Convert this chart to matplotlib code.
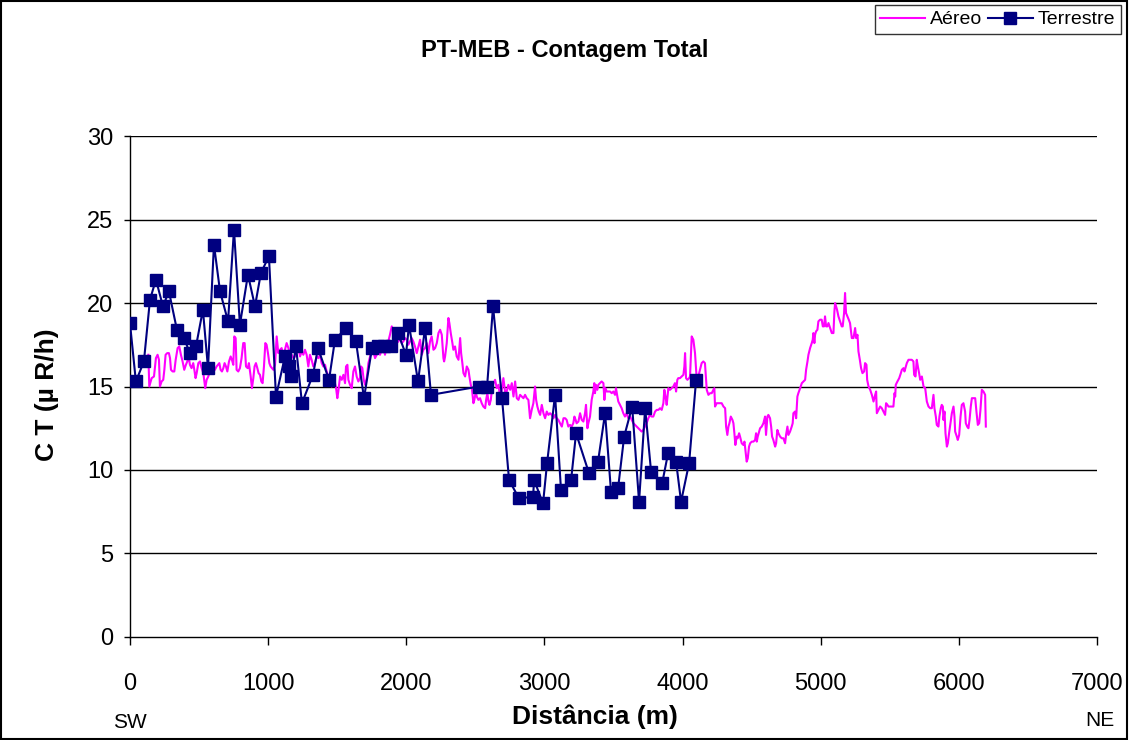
import numpy as np
import matplotlib
matplotlib.use("Agg")
import matplotlib.pyplot as plt
from matplotlib.patches import Rectangle

plt.rcParams['font.family'] = ['Liberation Sans', 'DejaVu Sans']

# perfil aéreo (distância em m, contagem total em uR/h)
aereo_x = [
    133, 140, 157, 174, 188, 200, 210, 217, 229, 241, 249, 258, 270, 282, 290, 297, 309, 321, 331, 345,
    357, 369, 381, 393, 405, 415, 425, 434, 446, 458, 466, 475, 483, 495, 507, 519, 531, 545, 555, 567,
    579, 591, 603, 615, 627, 637, 647, 656, 666, 676, 685, 695, 705, 717, 729, 738, 748, 755, 765, 772,
    784, 796, 808, 820, 830, 840, 852, 861, 874, 883, 893, 902, 912, 922, 931, 941, 951, 960, 970, 980,
    989, 999, 1009, 1018, 1028, 1038, 1050,
    1062, 1074, 1086, 1098, 1110, 1122, 1134, 1147, 1159, 1171, 1183, 1195, 1207, 1219, 1231, 1243, 1255,
    1267, 1279, 1291, 1303, 1315, 1327, 1340, 1352, 1364, 1376, 1388, 1400, 1412, 1424, 1436, 1448, 1460,
    1472, 1484, 1492, 1501, 1508, 1521, 1533, 1545, 1557, 1564, 1574, 1581, 1593, 1605, 1617, 1629, 1641,
    1653, 1665, 1673, 1682, 1692, 1702, 1714, 1726, 1738, 1750, 1762, 1774, 1786, 1798, 1810, 1822, 1834,
    1846, 1858, 1870, 1882, 1895, 1907, 1919, 1931, 1943, 1955, 1967, 1979, 1991, 2003, 2015, 2027, 2039,
    2051, 2063, 2076, 2088, 2100,
    2112, 2124, 2136, 2148, 2160, 2172, 2184, 2197, 2209, 2221, 2233, 2245, 2257, 2269, 2274, 2281, 2293,
    2305, 2312, 2322, 2334, 2341, 2353, 2365, 2378, 2390, 2397, 2406, 2414, 2426, 2438, 2450, 2457, 2467,
    2476, 2486, 2493, 2503, 2510, 2522, 2534, 2546, 2558, 2571, 2578, 2587, 2595, 2602, 2612, 2621, 2631,
    2643, 2655, 2667, 2679, 2691, 2703, 2715, 2727, 2739, 2752, 2764, 2776, 2788, 2800, 2812, 2824, 2836,
    2848, 2860, 2872, 2884, 2896, 2908, 2920, 2932, 2940, 2949, 2959, 2969, 2981, 2993, 3005, 3017, 3029,
    3041, 3053, 3065, 3077, 3089, 3101, 3113, 3126, 3138, 3150,
    3161, 3173, 3185, 3197, 3209, 3217, 3226, 3233, 3246, 3258, 3270, 3282, 3294, 3301, 3311, 3318, 3330,
    3342, 3354, 3361, 3366, 3373, 3383, 3390, 3402, 3414, 3427, 3434, 3441, 3451, 3463, 3475, 3487, 3499,
    3511, 3518, 3528, 3535, 3547, 3559, 3571, 3583, 3595, 3607, 3620, 3632, 3644, 3656, 3668, 3680, 3692,
    3704, 3716, 3728, 3740, 3752, 3764, 3776, 3788, 3801, 3813, 3825, 3837, 3849, 3861, 3868, 3878, 3885,
    3897, 3909, 3921, 3933, 3945, 3953, 3962, 3969, 3981, 3994, 4006, 4013, 4018, 4025, 4035, 4047, 4054,
    4066, 4078, 4090, 4102, 4114, 4126, 4138, 4150, 4162, 4175, 4187, 4199,
    4211, 4223, 4230, 4235, 4247, 4259, 4271, 4283, 4296, 4308, 4315, 4324, 4332, 4339, 4349, 4361, 4368,
    4375, 4382, 4392, 4399, 4409, 4416, 4428, 4440, 4448, 4455, 4464, 4472, 4481, 4489, 4501, 4513, 4525,
    4532, 4537, 4544, 4554, 4561, 4573, 4585, 4597, 4604, 4614, 4621, 4633, 4641, 4648, 4657, 4670, 4677,
    4686, 4694, 4706, 4718, 4730, 4742, 4749, 4759, 4766, 4778, 4790, 4797, 4802, 4814, 4822, 4831, 4838,
    4851, 4863, 4875, 4887, 4894, 4904, 4911, 4923, 4935, 4942, 4947, 4954, 4959, 4966, 4976, 4983, 4995,
    5007, 5015, 5024, 5031, 5039, 5048, 5056, 5068, 5080, 5092, 5099, 5104, 5111, 5118, 5128, 5140, 5152,
    5159, 5169, 5176, 5183, 5193, 5203, 5212, 5225, 5237, 5249,
    5256, 5266, 5273, 5283, 5292, 5302, 5314, 5321, 5331, 5336, 5346, 5358, 5370, 5382, 5394, 5401, 5406,
    5418, 5430, 5442, 5454, 5466, 5473, 5483, 5490, 5502, 5514, 5526, 5534, 5539, 5543, 5555, 5568, 5580,
    5587, 5599, 5606, 5613, 5623, 5635, 5647, 5659, 5671, 5676, 5686, 5695, 5703, 5712, 5720, 5732, 5744,
    5756, 5768, 5780, 5792, 5804, 5816, 5823, 5833, 5840, 5852, 5859, 5869, 5876, 5884, 5888, 5896, 5903,
    5913, 5920, 5929, 5942, 5949, 5961, 5968, 5973, 5985, 5992, 6002, 6012, 6021, 6033, 6045, 6050, 6060,
    6069, 6077, 6086, 6094, 6106, 6118, 6127, 6137, 6147, 6156, 6161, 6166, 6178, 6190, 6195,
]
aereo_ct = [
    16.9, 15.0, 15.5, 15.6, 16.7, 16.9, 16.6, 15.0, 15.3, 15.4, 16.0, 16.9, 17.0, 17.0, 16.7, 16.0, 15.9, 15.9, 16.6, 17.3,
    17.4, 16.9, 16.5, 16.0, 16.3, 16.5, 16.8, 16.3, 16.1, 16.4, 16.0, 15.5, 15.8, 16.4, 16.5, 16.1, 15.8, 14.9, 15.4, 15.6,
    15.9, 16.4, 16.0, 16.0, 16.2, 16.3, 16.4, 16.0, 15.9, 16.1, 16.4, 16.2, 15.9, 16.5, 16.8, 16.6, 16.3, 18.0, 17.9, 16.0,
    15.9, 16.1, 16.7, 17.6, 17.6, 16.2, 16.1, 16.4, 15.6, 14.9, 15.5, 16.2, 16.4, 16.1, 15.8, 15.7, 15.3, 15.2, 16.2, 17.6,
    17.5, 17.0, 16.4, 16.2, 16.1, 16.0, 16.3,
    18.0, 17.0, 17.2, 17.3, 16.7, 17.2, 17.6, 17.3, 16.8, 16.9, 16.7, 16.8, 17.1, 17.4, 16.8, 17.1, 16.9,
    17.2, 16.9, 16.2, 16.9, 16.6, 16.2, 16.4, 16.8, 16.7, 16.9, 16.4, 16.2, 16.3, 15.9, 15.6, 15.3, 15.0,
    15.4, 15.2, 14.9, 14.3, 14.7, 15.6, 15.4, 15.7, 15.2, 16.2, 16.3, 15.4, 15.1, 14.9, 15.9, 16.2, 15.6,
    15.3, 15.5, 16.2, 16.1, 15.4, 15.1, 15.5, 16.4, 16.8, 17.2, 17.1, 16.7, 16.9, 17.2, 16.9, 17.2, 17.4,
    16.9, 17.5, 17.7, 18.1, 18.6, 18.3, 17.8, 17.6, 17.7, 17.9, 17.6, 17.7, 17.9, 17.8, 17.5, 17.7, 17.9,
    17.7, 17.4, 17.0, 17.4, 17.8,
    16.9, 17.2, 17.3, 17.6, 17.0, 17.7, 18.0, 17.2, 17.3, 17.6, 18.2, 18.4, 18.1, 16.7, 16.5, 16.8, 17.6,
    19.1, 18.8, 18.2, 17.6, 17.2, 17.4, 16.8, 16.6, 17.9, 17.0, 16.4, 15.8, 15.6, 16.2, 16.0, 15.6, 15.1,
    14.8, 14.0, 14.2, 14.7, 14.4, 14.2, 14.3, 14.0, 13.8, 13.7, 14.2, 14.6, 14.1, 13.9, 14.2, 14.9, 15.2,
    15.4, 14.9, 15.1, 14.4, 14.8, 15.5, 14.7, 14.7, 15.1, 14.8, 15.2, 14.4, 15.3, 14.3, 14.2, 14.5, 14.4,
    14.3, 14.5, 14.3, 14.2, 13.1, 13.6, 14.0, 15.0, 14.2, 13.8, 13.5, 13.3, 13.9, 13.4, 13.1, 13.5, 13.3,
    13.4, 13.3, 13.1, 13.3, 13.1, 13.0, 12.8, 12.6, 13.1, 13.1,
    13.0, 12.6, 12.7, 12.6, 12.8, 13.2, 13.0, 12.8, 12.9, 13.4, 13.0, 12.9, 13.4, 13.9, 12.5, 12.8, 13.2,
    14.2, 14.7, 15.2, 14.6, 15.1, 14.8, 15.1, 15.2, 15.3, 15.2, 14.2, 14.9, 14.7, 14.7, 14.7, 14.6, 14.7,
    14.5, 14.9, 14.4, 14.1, 13.9, 13.7, 13.4, 13.2, 13.4, 13.1, 13.2, 13.0, 12.8, 12.7, 12.6, 12.5, 12.4,
    12.3, 12.4, 12.6, 12.8, 13.1, 13.3, 13.2, 13.2, 13.5, 13.6, 13.6, 13.7, 13.6, 14.0, 14.8, 14.3, 13.9,
    14.9, 14.8, 14.9, 15.0, 15.2, 14.7, 15.4, 15.5, 15.5, 15.6, 15.7, 16.2, 17.0, 15.5, 15.4, 15.5, 15.6,
    18.0, 17.8, 17.0, 15.5, 15.6, 16.0, 16.4, 16.5, 16.4, 14.8, 14.5, 14.6,
    14.6, 14.8, 14.9, 13.8, 14.0, 14.0, 14.0, 14.0, 13.8, 13.7, 12.6, 12.1, 12.6, 12.8, 13.2, 13.0, 12.8,
    12.2, 11.5, 12.0, 11.9, 12.2, 12.0, 11.6, 11.5, 11.7, 11.2, 10.5, 10.7, 11.4, 11.6, 11.7, 11.7, 11.8,
    12.2, 11.7, 12.0, 12.3, 12.5, 12.6, 12.8, 13.2, 12.1, 13.2, 13.3, 13.1, 12.6, 12.0, 11.8, 11.4, 11.6,
    12.4, 12.2, 12.0, 11.9, 11.9, 11.6, 12.1, 12.6, 12.1, 12.3, 12.6, 12.8, 13.4, 13.5, 13.1, 14.4, 14.6,
    14.9, 15.2, 15.3, 15.4, 16.0, 16.5, 16.9, 17.3, 17.6, 17.8, 18.2, 17.6, 18.1, 18.3, 18.4, 18.9, 19.0,
    19.0, 18.6, 18.6, 19.2, 18.6, 18.6, 18.8, 18.5, 18.2, 18.2, 19.5, 20.0, 19.8, 19.6, 19.2, 18.9, 18.6,
    18.6, 19.4, 20.6, 19.4, 19.2, 19.0, 18.8, 17.9, 17.9, 18.5,
    17.9, 18.1, 17.1, 16.6, 16.1, 15.8, 15.9, 16.4, 16.3, 15.4, 15.0, 14.8, 14.5, 14.1, 14.5, 14.7, 13.4,
    13.6, 13.8, 13.7, 13.5, 13.3, 14.0, 13.9, 13.8, 13.8, 13.8, 13.8, 14.6, 14.4, 15.1, 15.3, 15.5, 15.8,
    16.0, 16.1, 15.9, 16.1, 16.4, 16.6, 16.6, 16.6, 16.5, 15.7, 15.6, 16.6, 16.2, 15.8, 15.4, 15.6, 15.0,
    14.9, 14.1, 13.8, 13.7, 13.7, 14.5, 13.7, 13.2, 12.7, 12.6, 13.2, 13.7, 13.9, 13.8, 13.0, 13.5, 12.2,
    11.4, 11.6, 12.2, 13.0, 13.4, 13.8, 13.2, 12.3, 12.0, 11.8, 12.1, 13.2, 13.9, 14.0, 13.5, 12.8, 12.6,
    12.5, 13.0, 13.8, 14.3, 14.3, 14.3, 13.5, 12.7, 12.8, 13.6, 14.2, 14.8, 14.7, 14.5, 12.6,
]

# perfil terrestre
terr_x = [
    0, 43, 101, 145, 188, 239, 282, 340, 391, 434, 478, 528, 565, 608, 652, 710, 753, 796, 854, 905,
    948, 1006, 1057, 1122, 1151, 1166, 1202, 1245, 1325, 1361, 1441, 1484, 1564, 1636, 1694, 1752, 1796,
    1839, 1890, 1940, 1998, 2020, 2085, 2136, 2179, 2527, 2585, 2628, 2693, 2744, 2816, 2918, 2925, 2990,
    3019, 3077, 3120, 3193, 3229, 3323, 3388, 3439, 3482, 3533, 3577, 3635, 3685, 3729, 3772, 3852, 3895,
    3953, 3989, 4047, 4098,
]
terr_ct = [
    18.8, 15.3, 16.5, 20.2, 21.4, 19.8, 20.7, 18.4, 17.9, 17.0, 17.4, 19.6, 16.1, 23.5, 20.7, 18.9, 24.4, 18.7, 21.7, 19.8,
    21.8, 22.8, 14.4, 16.8, 16.2, 15.6, 17.4, 14.0, 15.7, 17.3, 15.4, 17.8, 18.5, 17.7, 14.3, 17.3, 17.4,
    17.4, 17.4, 18.2, 16.9, 18.7, 15.3, 18.5, 14.5, 15.0, 15.0, 19.8, 14.3, 9.4, 8.3, 8.4, 9.4, 8.0,
    10.4, 14.5, 8.8, 9.4, 12.2, 9.8, 10.5, 13.4, 8.7, 8.9, 12.0, 13.8, 8.1, 13.7, 9.9, 9.2, 11.0,
    10.5, 8.1, 10.4, 15.4,
]

x_ticks = [0, 1000, 2000, 3000, 4000, 5000, 6000, 7000]
y_ticks = [0, 5, 10, 15, 20, 25, 30]

fig = plt.figure(figsize=(11.29, 7.40), dpi=100)
fig.patch.set_facecolor('white')
ax = fig.add_axes([0.1151, 0.1392, 0.8566, 0.6770])

for yv in y_ticks[1:]:
    ax.axhline(yv, color='black', lw=1.0, zorder=1)

ax.plot(aereo_x, aereo_ct, color='#FF00FF', lw=1.5, label='Aéreo', zorder=2)
ax.plot(terr_x, terr_ct, color='#000080', lw=1.5, marker='s', markersize=9,
        markerfacecolor='#000080', markeredgecolor='#000080', label='Terrestre', zorder=3)

ax.set_xlim(0, 7000)
ax.set_ylim(0, 30)
ax.set_xticks(x_ticks)
ax.set_yticks(y_ticks)
ax.spines['top'].set_visible(False)
ax.spines['right'].set_visible(False)
ax.spines['left'].set_linewidth(1.0)
ax.spines['bottom'].set_linewidth(1.0)
ax.tick_params(axis='x', direction='out', length=6, width=1, pad=20, labelsize=17)
ax.tick_params(axis='y', direction='out', length=4, width=1, pad=8, labelsize=17)

fig.text(565 / 1129, 1 - 50 / 740, 'PT-MEB - Contagem Total', ha='center', va='center',
         fontsize=17, fontweight='bold')
fig.text(47 / 1129, 1 - 395 / 740, 'C T (µ R/h)', ha='center', va='center', rotation=90,
         fontsize=19, fontweight='bold')
fig.text(595 / 1129, 1 - 717 / 740, 'Distância (m)', ha='center', va='center',
         fontsize=19, fontweight='bold')
fig.text(130 / 1129, 1 - 722 / 740, 'SW', ha='center', va='center', fontsize=15)
fig.text(1100 / 1129, 1 - 720 / 740, 'NE', ha='center', va='center', fontsize=15)

leg = fig.legend(loc='upper right', bbox_to_anchor=(1121 / 1129, 1 - 5 / 740), ncol=2,
                 fontsize=14, frameon=True, fancybox=False, edgecolor='black',
                 handlelength=2.3, handletextpad=0.25, columnspacing=0.3,
                 borderpad=0.3, borderaxespad=0)
leg.get_frame().set_linewidth(1.0)

# moldura externa
fig.patches.append(Rectangle((0.001, 0.001), 0.997, 0.997, transform=fig.transFigure,
                             fill=False, edgecolor='black', lw=1.5))

fig.savefig('out.png', dpi=100)
